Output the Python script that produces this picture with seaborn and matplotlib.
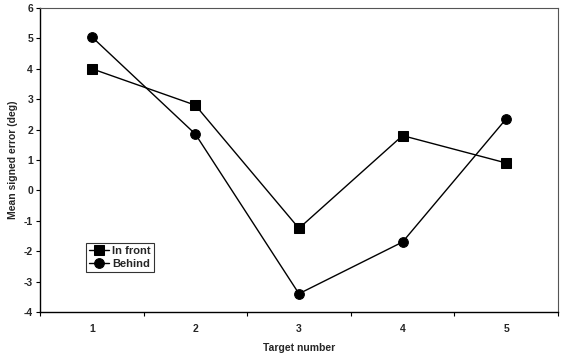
import matplotlib
matplotlib.use("Agg")
import matplotlib.pyplot as plt
import seaborn as sns
import pandas as pd
import numpy as np

targets = ["1", "2", "3", "4", "5"]
in_front = [4.0, 2.8, -1.25, 1.8, 0.9]
behind = [5.05, 1.85, -3.4, -1.7, 2.35]
y_ticks = [-4, -3, -2, -1, 0, 1, 2, 3, 4, 5, 6]

sns.set_theme(style="white")
plt.rcParams['font.family'] = ['Liberation Sans', 'DejaVu Sans']
plt.rcParams['font.weight'] = 'bold'

df = pd.DataFrame({
    "Target": targets * 2,
    "Error": in_front + behind,
    "Condition": ["In front"] * 5 + ["Behind"] * 5,
})

fig = plt.figure(figsize=(5.63, 3.59), dpi=100)
ax = fig.add_axes([0.071, 0.131, 0.92, 0.847])

sns.pointplot(data=df, x="Target", y="Error", hue="Condition",
              order=targets, hue_order=["In front", "Behind"],
              palette=["black", "black"], markers=["s", "o"],
              linestyles=["-", "-"], ax=ax, errorbar=None,
              markersize=7, linewidth=1.0)

ax.set_xlim(-0.5, 4.5)
ax.set_ylim(-4, 6)
ax.set_yticks(y_ticks)
ax.set_yticklabels([str(v) for v in y_ticks], fontsize=7.5, fontweight='bold')
ax.set_xticks(range(5))
ax.set_xticklabels(targets, fontsize=7.5, fontweight='bold')
ax.set_xticks(np.arange(-0.5, 5.0, 1.0), minor=True)
ax.tick_params(axis='x', which='major', length=0, pad=9)
ax.tick_params(axis='x', which='minor', length=3, width=0.8, color='black', direction='out', bottom=True)
ax.tick_params(axis='y', which='major', length=3, width=0.8, color='black', direction='out', left=True, pad=2)

ax.set_xlabel("Target number", fontsize=7.5, fontweight='bold', labelpad=6)
ax.set_ylabel("Mean signed error (deg)", fontsize=7.5, fontweight='bold', labelpad=4)

for side in ["left", "bottom"]:
    ax.spines[side].set_color("black")
    ax.spines[side].set_linewidth(1.0)
for side in ["top", "right"]:
    ax.spines[side].set_color("#555555")
    ax.spines[side].set_linewidth(0.8)

leg = ax.legend(loc="lower left", bbox_to_anchor=(0.088, 0.13), fontsize=8,
                frameon=True, fancybox=False, edgecolor="black",
                handlelength=1.8, handletextpad=0.3, borderpad=0.3,
                labelspacing=0.25, borderaxespad=0)
leg.get_frame().set_linewidth(0.8)
for t in leg.get_texts():
    t.set_fontweight('bold')

fig.savefig("out.png", dpi=100)
